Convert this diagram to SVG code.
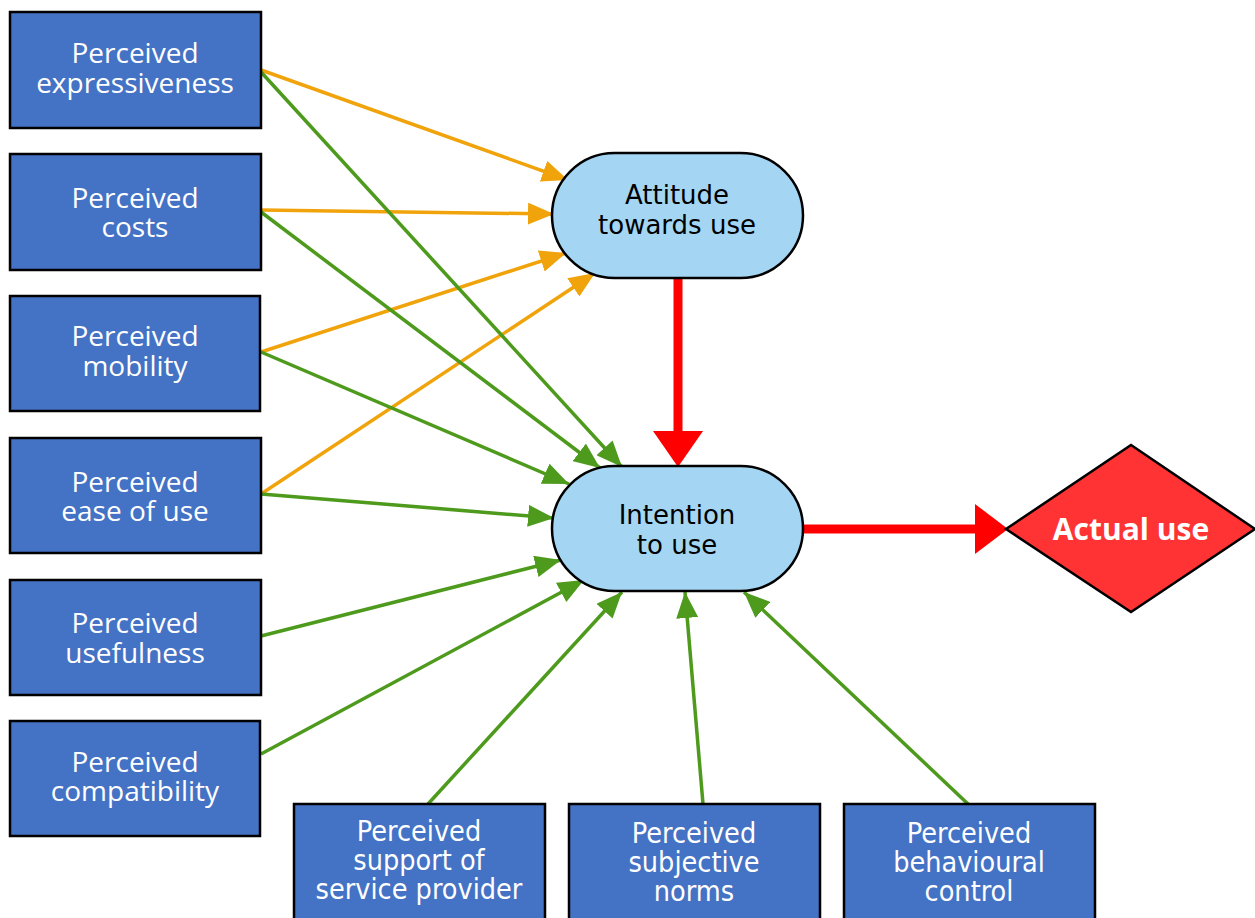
<svg xmlns="http://www.w3.org/2000/svg" width="1255" height="918" viewBox="0 0 1255 918">
<style>
.box{fill:#4472C4;stroke:#000;stroke-width:2.5}
.pill{fill:#A4D6F4;stroke:#000;stroke-width:2.5}
.bt{font-family:"Open Sans","Noto Sans",sans-serif;font-size:28px;fill:#fff;text-anchor:middle}
.bc{font-family:"DejaVu Sans Condensed","DejaVu Sans",sans-serif;font-stretch:condensed;font-size:28.5px;fill:#fff;text-anchor:middle}
.pt{font-family:"DejaVu Sans",sans-serif;font-size:26px;fill:#000;text-anchor:middle}
.or{stroke:#F0A30A;stroke-width:3.5;fill:none;marker-end:url(#ao)}
.gr{stroke:#4D9A1C;stroke-width:3.5;fill:none;marker-end:url(#ag)}
.rd{stroke:#FF0000;stroke-width:9;fill:none}
</style>
<defs>
<marker id="ao" markerUnits="userSpaceOnUse" markerWidth="28" markerHeight="22" refX="26" refY="11" orient="auto"><path d="M0,0 L26,11 L0,22 z" fill="#F0A30A"/></marker>
<marker id="ag" markerUnits="userSpaceOnUse" markerWidth="28" markerHeight="22" refX="26" refY="11" orient="auto"><path d="M0,0 L26,11 L0,22 z" fill="#4D9A1C"/></marker>
</defs>
<rect width="1255" height="918" fill="#fff"/>
<g id="connectors">
<line class="or" x1="261" y1="70" x2="568" y2="180"/>
<line class="or" x1="261" y1="210" x2="554" y2="214"/>
<line class="or" x1="261" y1="352" x2="566" y2="253"/>
<line class="or" x1="261" y1="494" x2="595" y2="273"/>
<line class="gr" x1="261" y1="72" x2="622" y2="467"/>
<line class="gr" x1="261" y1="212" x2="600" y2="468"/>
<line class="gr" x1="261" y1="352" x2="569" y2="484"/>
<line class="gr" x1="261" y1="494" x2="554" y2="518"/>
<line class="gr" x1="261" y1="636" x2="561" y2="560"/>
<line class="gr" x1="261" y1="754" x2="584" y2="580"/>
<line class="gr" x1="428" y1="804" x2="622" y2="592"/>
<line class="gr" x1="703" y1="804" x2="685" y2="592"/>
<line class="gr" x1="968" y1="804" x2="744" y2="592"/>
<line class="rd" x1="678" y1="278" x2="678" y2="434"/>
<path d="M653,431 L703,431 L678,467 z" fill="#FF0000"/>
<line class="rd" x1="803" y1="529" x2="978" y2="529"/>
<path d="M975,504 L1008,529 L975,554 z" fill="#FF0000"/>
</g>
<g id="n1"><rect class="box" x="10" y="12" width="251" height="116"/><text class="bt" x="135" y="63">Perceived</text><text class="bt" x="135" y="93">expressiveness</text></g>
<g id="n2"><rect class="box" x="10" y="154" width="251" height="116"/><text class="bt" x="135" y="208">Perceived</text><text class="bt" x="135" y="237">costs</text></g>
<g id="n3"><rect class="box" x="10" y="296" width="250" height="115"/><text class="bt" x="135" y="346">Perceived</text><text class="bt" x="135" y="376">mobility</text></g>
<g id="n4"><rect class="box" x="10" y="438" width="251" height="115"/><text class="bt" x="135" y="492">Perceived</text><text class="bt" x="135" y="521">ease of use</text></g>
<g id="n5"><rect class="box" x="10" y="580" width="251" height="115"/><text class="bt" x="135" y="633">Perceived</text><text class="bt" x="135" y="663">usefulness</text></g>
<g id="n6"><rect class="box" x="10" y="721" width="250" height="115"/><text class="bt" x="135" y="772">Perceived</text><text class="bt" x="135" y="801">compatibility</text></g>
<g id="n7"><rect class="box" x="294" y="804" width="251" height="130"/><text class="bc" x="419" y="841">Perceived</text><text class="bc" x="419" y="870">support of</text><text class="bc" x="419" y="899">service provider</text></g>
<g id="n8"><rect class="box" x="569" y="804" width="251" height="130"/><text class="bc" x="694" y="843">Perceived</text><text class="bc" x="694" y="872">subjective</text><text class="bc" x="694" y="901">norms</text></g>
<g id="n9"><rect class="box" x="844" y="804" width="251" height="130"/><text class="bc" x="969" y="843">Perceived</text><text class="bc" x="969" y="872">behavioural</text><text class="bc" x="969" y="901">control</text></g>
<g id="attitude"><rect class="pill" x="552" y="153" width="251" height="125" rx="62.5" ry="62.5"/><text class="pt" x="677" y="204">Attitude</text><text class="pt" x="677" y="234">towards use</text></g>
<g id="intention"><rect class="pill" x="552" y="466" width="251" height="125" rx="62.5" ry="62.5"/><text class="pt" x="677" y="524">Intention</text><text class="pt" x="677" y="554">to use</text></g>
<g id="actual"><path d="M1006,529 L1131,445 L1255,529 L1131,612 z" fill="#FF3333" stroke="#000" stroke-width="2.5"/><text x="1131" y="540" font-family="Open Sans,Noto Sans,sans-serif" font-weight="bold" font-size="30" fill="#fff" text-anchor="middle">Actual use</text></g>
</svg>
